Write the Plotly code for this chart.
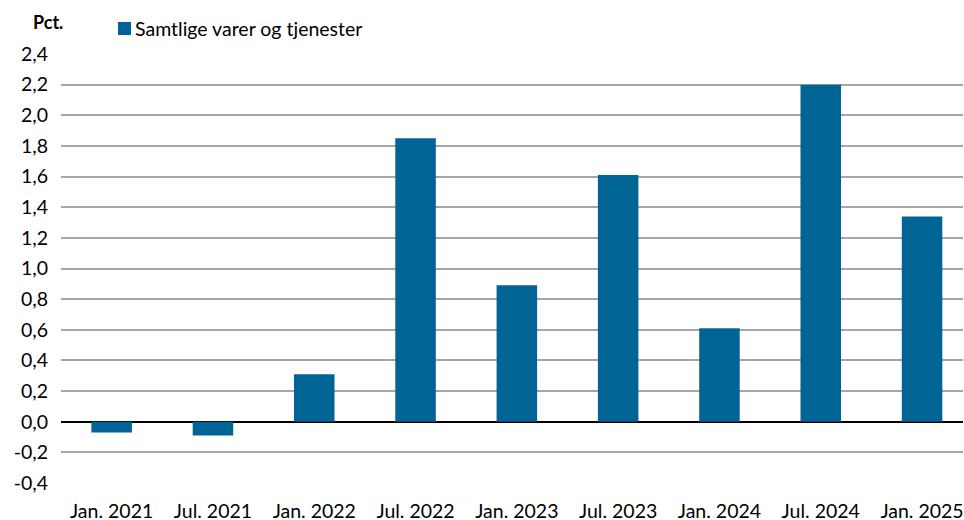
import plotly.graph_objects as go

categories = ["Jan. 2021", "Jul. 2021", "Jan. 2022", "Jul. 2022", "Jan. 2023",
              "Jul. 2023", "Jan. 2024", "Jul. 2024", "Jan. 2025"]
values = [-0.07, -0.09, 0.31, 1.85, 0.89, 1.61, 0.61, 2.20, 1.34]
series_name = "Samtlige varer og tjenester"
tick_vals = [-0.4, -0.2, 0.0, 0.2, 0.4, 0.6, 0.8, 1.0, 1.2, 1.4, 1.6, 1.8, 2.0, 2.2, 2.4]
tick_text = [f"{v:.1f}".replace(".", ",") for v in tick_vals]

FONT = "Lato, Calibri, Carlito, sans-serif"
FS = 19.5
BAR = "#006494"

L, R, T, B = 61, 1, 54, 37
W, H = 964, 520
plot_w = W - L - R
plot_h = H - T - B
CAT_PX = 101.3  # pixel width of one category slot in the reference


def px_to_paper(px, py):
    return (px - L) / plot_w, (H - B - py) / plot_h


fig = go.Figure()
fig.add_trace(go.Bar(x=categories, y=values, name=series_name,
                     marker=dict(color=BAR, line=dict(width=0)),
                     showlegend=False))

fig.update_layout(
    width=W, height=H,
    margin=dict(l=L, r=R, t=T, b=B, autoexpand=False),
    paper_bgcolor="white", plot_bgcolor="white",
    bargap=0.6,
    font=dict(family=FONT, size=FS, color="#000000"),
    xaxis=dict(showgrid=False, showline=False, ticks="", tickfont=dict(size=FS),
               ticklabelstandoff=14, automargin=False,
               range=[-0.5, -0.5 + plot_w / CAT_PX], fixedrange=True),
    yaxis=dict(range=[-0.4, 2.4], tickvals=tick_vals, ticktext=tick_text,
               showgrid=True, gridcolor="#a6a6a6", gridwidth=1.5,
               zeroline=True, zerolinecolor="#000000", zerolinewidth=2,
               showline=False, ticks="", ticklabelstandoff=12, automargin=False,
               tickfont=dict(size=FS), fixedrange=True),
)

ax, ay = px_to_paper(47.5, 22)
fig.add_annotation(text="<b>Pct.</b>", x=ax, y=ay, xref="paper", yref="paper",
                   xanchor="center", yanchor="middle",
                   showarrow=False, font=dict(size=18, family=FONT))
x0, y0 = px_to_paper(118, 35)
x1, y1 = px_to_paper(131, 22)
fig.add_shape(type="rect", xref="paper", yref="paper", x0=x0, y0=y0, x1=x1, y1=y1,
              fillcolor=BAR, line=dict(width=0))
lx, ly = px_to_paper(133, 28.5)
fig.add_annotation(text=series_name, x=lx, y=ly, xref="paper", yref="paper",
                   xanchor="left", yanchor="middle",
                   showarrow=False, font=dict(size=FS, family=FONT))

fig.write_html("out.html", config={"displayModeBar": False},
               post_script="document.body.style.margin='0';")
